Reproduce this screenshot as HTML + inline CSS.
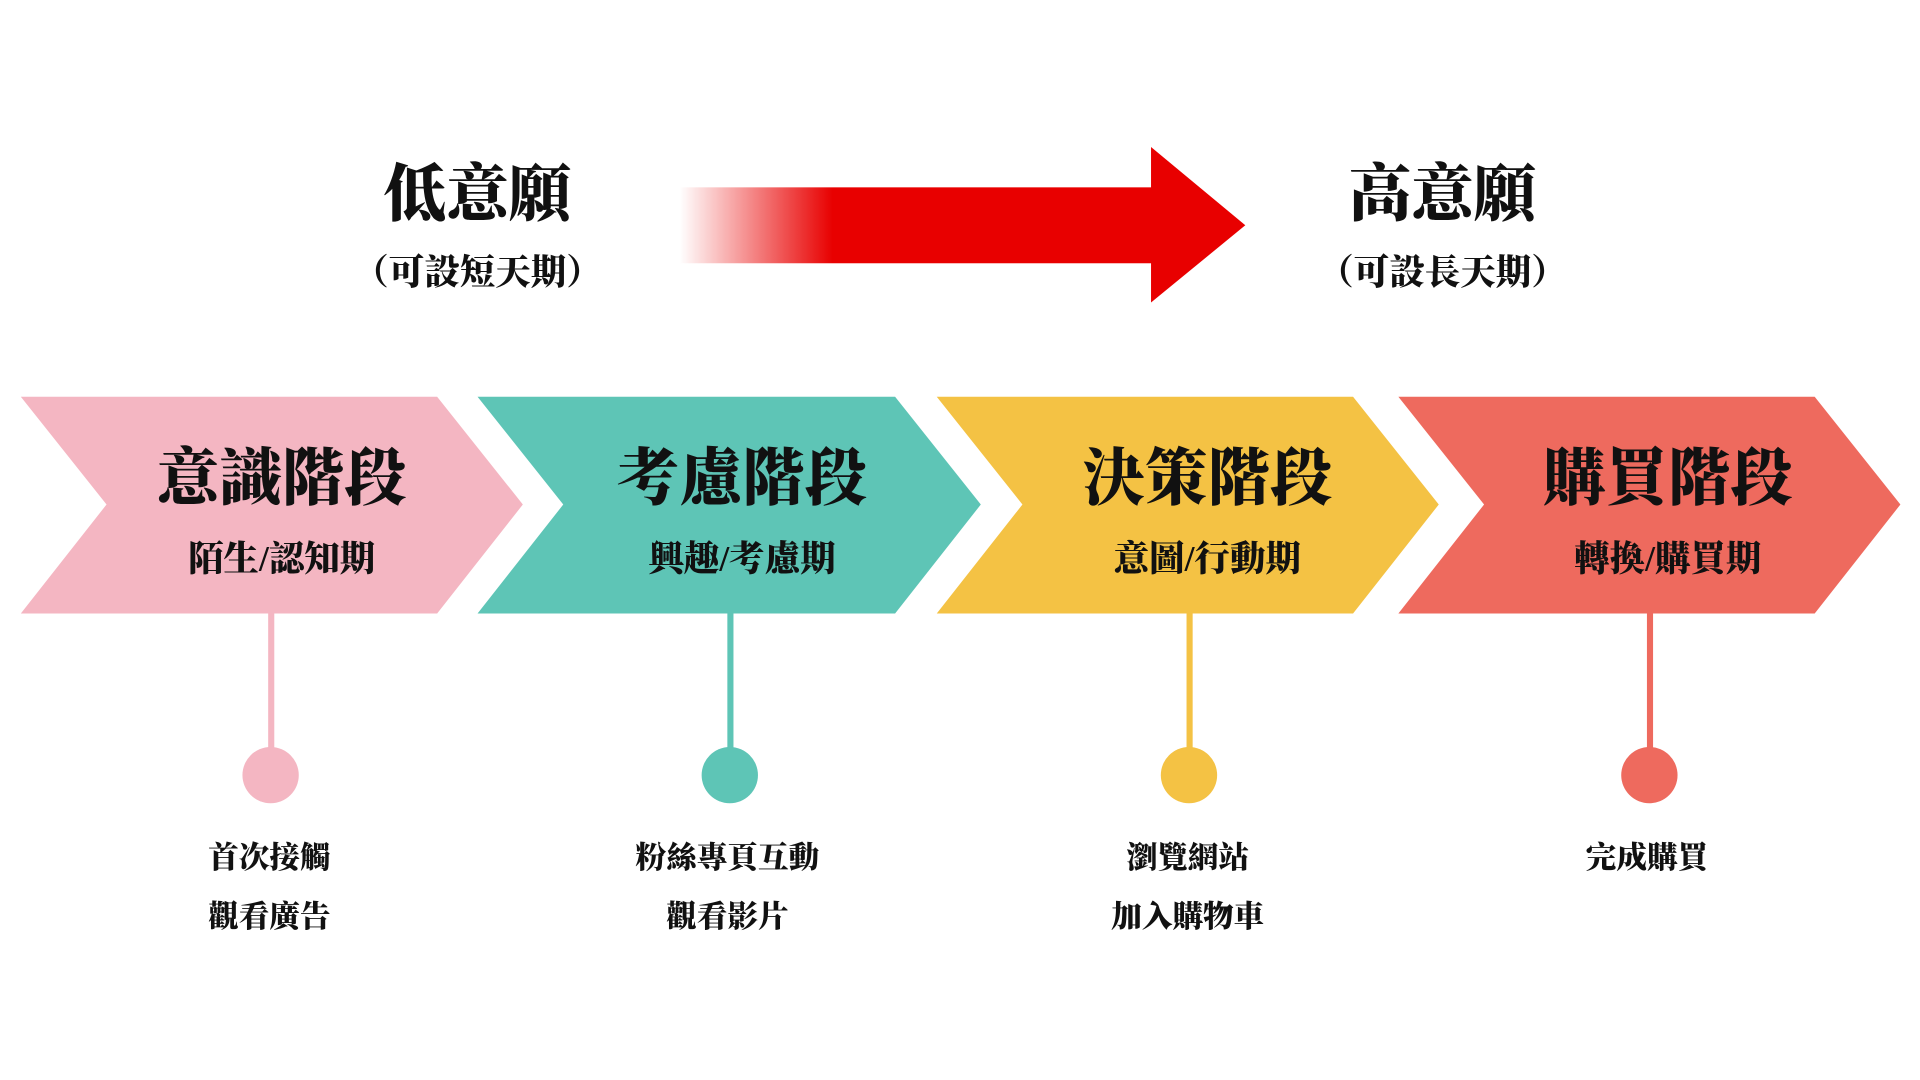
<!DOCTYPE html>
<html><head><meta charset="utf-8"><style>
html,body{margin:0;padding:0;background:#fff;}
svg{display:block;}
text{font-family:"Liberation Serif","Noto Serif CJK SC","Noto Serif CJK TC",serif;font-weight:900;fill:#111;text-anchor:middle;}
</style></head><body>
<svg width="1920" height="1080" viewBox="0 0 1568 882" preserveAspectRatio="none" xmlns="http://www.w3.org/2000/svg">
<defs>
<linearGradient id="g" x1="555" y1="0" x2="680" y2="0" gradientUnits="userSpaceOnUse">
<stop offset="0" stop-color="#e80000" stop-opacity="0"/>
<stop offset="1" stop-color="#e80000" stop-opacity="1"/>
</linearGradient>
</defs>
<text x="390" y="176" font-size="51">低意願</text>
<text x="390" y="232" font-size="29">（可設短天期）</text>
<text x="1178" y="176" font-size="51">高意願</text>
<text x="1178" y="232" font-size="29">（可設長天期）</text>
<rect x="555" y="153" width="386" height="62" fill="url(#g)"/>
<polygon points="940,120 1017,184 940,247" fill="#e80000"/>

<polygon points="17,324 357,324 427,412 357,501 17,501 87,412" fill="#F4B6C2"/>
<polygon points="390,324 731,324 801,412 731,501 390,501 460,412" fill="#5EC5B6"/>
<polygon points="765,324 1105,324 1175,412 1105,501 765,501 835,412" fill="#F4C244"/>
<polygon points="1142,324 1482,324 1552,412 1482,501 1142,501 1212,412" fill="#EE6A5E"/>

<text x="230" y="408" font-size="51">意識階段</text>
<text x="230" y="466" font-size="29">陌生/認知期</text>
<text x="606" y="408" font-size="51">考慮階段</text>
<text x="606" y="466" font-size="29">興趣/考慮期</text>
<text x="986" y="408" font-size="51">決策階段</text>
<text x="986" y="466" font-size="29">意圖/行動期</text>
<text x="1362" y="408" font-size="51">購買階段</text>
<text x="1362" y="466" font-size="29">轉換/購買期</text>

<rect x="219" y="500" width="5" height="120" fill="#F4B6C2"/>
<circle cx="221" cy="633" r="23" fill="#F4B6C2"/>
<rect x="594" y="500" width="5" height="120" fill="#5EC5B6"/>
<circle cx="596" cy="633" r="23" fill="#5EC5B6"/>
<rect x="969" y="500" width="5" height="120" fill="#F4C244"/>
<circle cx="971" cy="633" r="23" fill="#F4C244"/>
<rect x="1345" y="500" width="5" height="120" fill="#EE6A5E"/>
<circle cx="1347" cy="633" r="23" fill="#EE6A5E"/>

<text x="220" y="709" font-size="25">首次接觸</text>
<text x="220" y="757" font-size="25">觀看廣告</text>
<text x="594" y="709" font-size="25">粉絲專頁互動</text>
<text x="594" y="757" font-size="25">觀看影片</text>
<text x="970" y="709" font-size="25">瀏覽網站</text>
<text x="970" y="757" font-size="25">加入購物車</text>
<text x="1345" y="709" font-size="25">完成購買</text>
</svg>
</body></html>
